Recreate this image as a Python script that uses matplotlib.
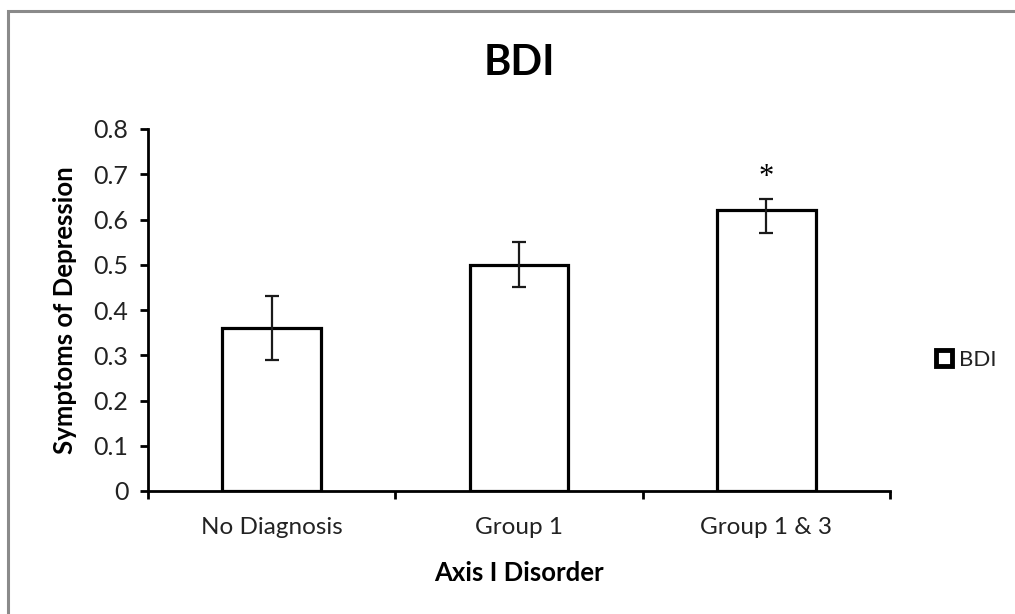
import matplotlib.pyplot as plt
from matplotlib.patches import Rectangle, Patch

plt.rcParams['font.family'] = ['Lato', 'DejaVu Sans']

groups = ['No Diagnosis', 'Group 1', 'Group 1 & 3']
bdi = [0.36, 0.50, 0.62]
err_low = [0.07, 0.05, 0.05]
err_high = [0.07, 0.05, 0.025]
yticks = [0, 0.1, 0.2, 0.3, 0.4, 0.5, 0.6, 0.7, 0.8]

fig = plt.figure(figsize=(10.15, 6.14), dpi=100)
ax = fig.add_axes([148/1015, 1 - 491/614, 742/1015, 362/614])

x = list(range(len(groups)))
ax.bar(x, bdi, width=0.4, color='white', edgecolor='black', linewidth=2.3, zorder=2)
ax.errorbar(x, bdi, yerr=[err_low, err_high], fmt='none', ecolor='#1a1a1a',
            elinewidth=1.6, capsize=4.7, capthick=1.6, zorder=3)

# significance marker above the last bar
ax.text(x[2], bdi[2] + err_high[2] + 0.048, '*', ha='center', va='center',
        fontsize=22, family='Liberation Serif')

ax.set_xlim(-0.5, 2.5)
ax.set_ylim(0, 0.8)
ax.set_yticks(yticks)
ax.set_yticklabels([('%g' % v) for v in yticks], fontsize=18, color='#222222')
ax.set_xticks(x)
ax.set_xticklabels(groups, fontsize=17.5, color='#222222')
ax.set_xticks([-0.5, 0.5, 1.5, 2.5], minor=True)
ax.tick_params(axis='x', which='major', length=0, pad=19)
ax.tick_params(axis='x', which='minor', length=6, width=2, direction='out')
ax.tick_params(axis='y', length=6, width=2, direction='out', pad=8)
for s in ['top', 'right']:
    ax.spines[s].set_visible(False)
for s in ['left', 'bottom']:
    ax.spines[s].set_linewidth(2)

ax.set_title('BDI', fontsize=30, fontweight='bold', pad=39)
ax.set_ylabel('Symptoms of Depression', fontsize=18.5, fontweight='bold', labelpad=12)
ax.set_xlabel('Axis I Disorder', fontsize=18.5, fontweight='bold', labelpad=16)

handle = Patch(facecolor='white', edgecolor='black', linewidth=3.5, label='BDI')
ax.legend(handles=[handle], loc='center left', bbox_to_anchor=(1.035, 0.362), frameon=False,
          fontsize=16, handlelength=0.7, handleheight=0.7, handletextpad=0.35,
          labelcolor='#222222')

# grey frame around the chart, running off the right and bottom edges
fig.patches.append(Rectangle((8/1015, -0.1), 1.2, 1 - 11/614 + 0.1,
                             transform=fig.transFigure, fill=False,
                             edgecolor='#8a8a8a', linewidth=2.2))

fig.savefig('out.png', dpi=100)
